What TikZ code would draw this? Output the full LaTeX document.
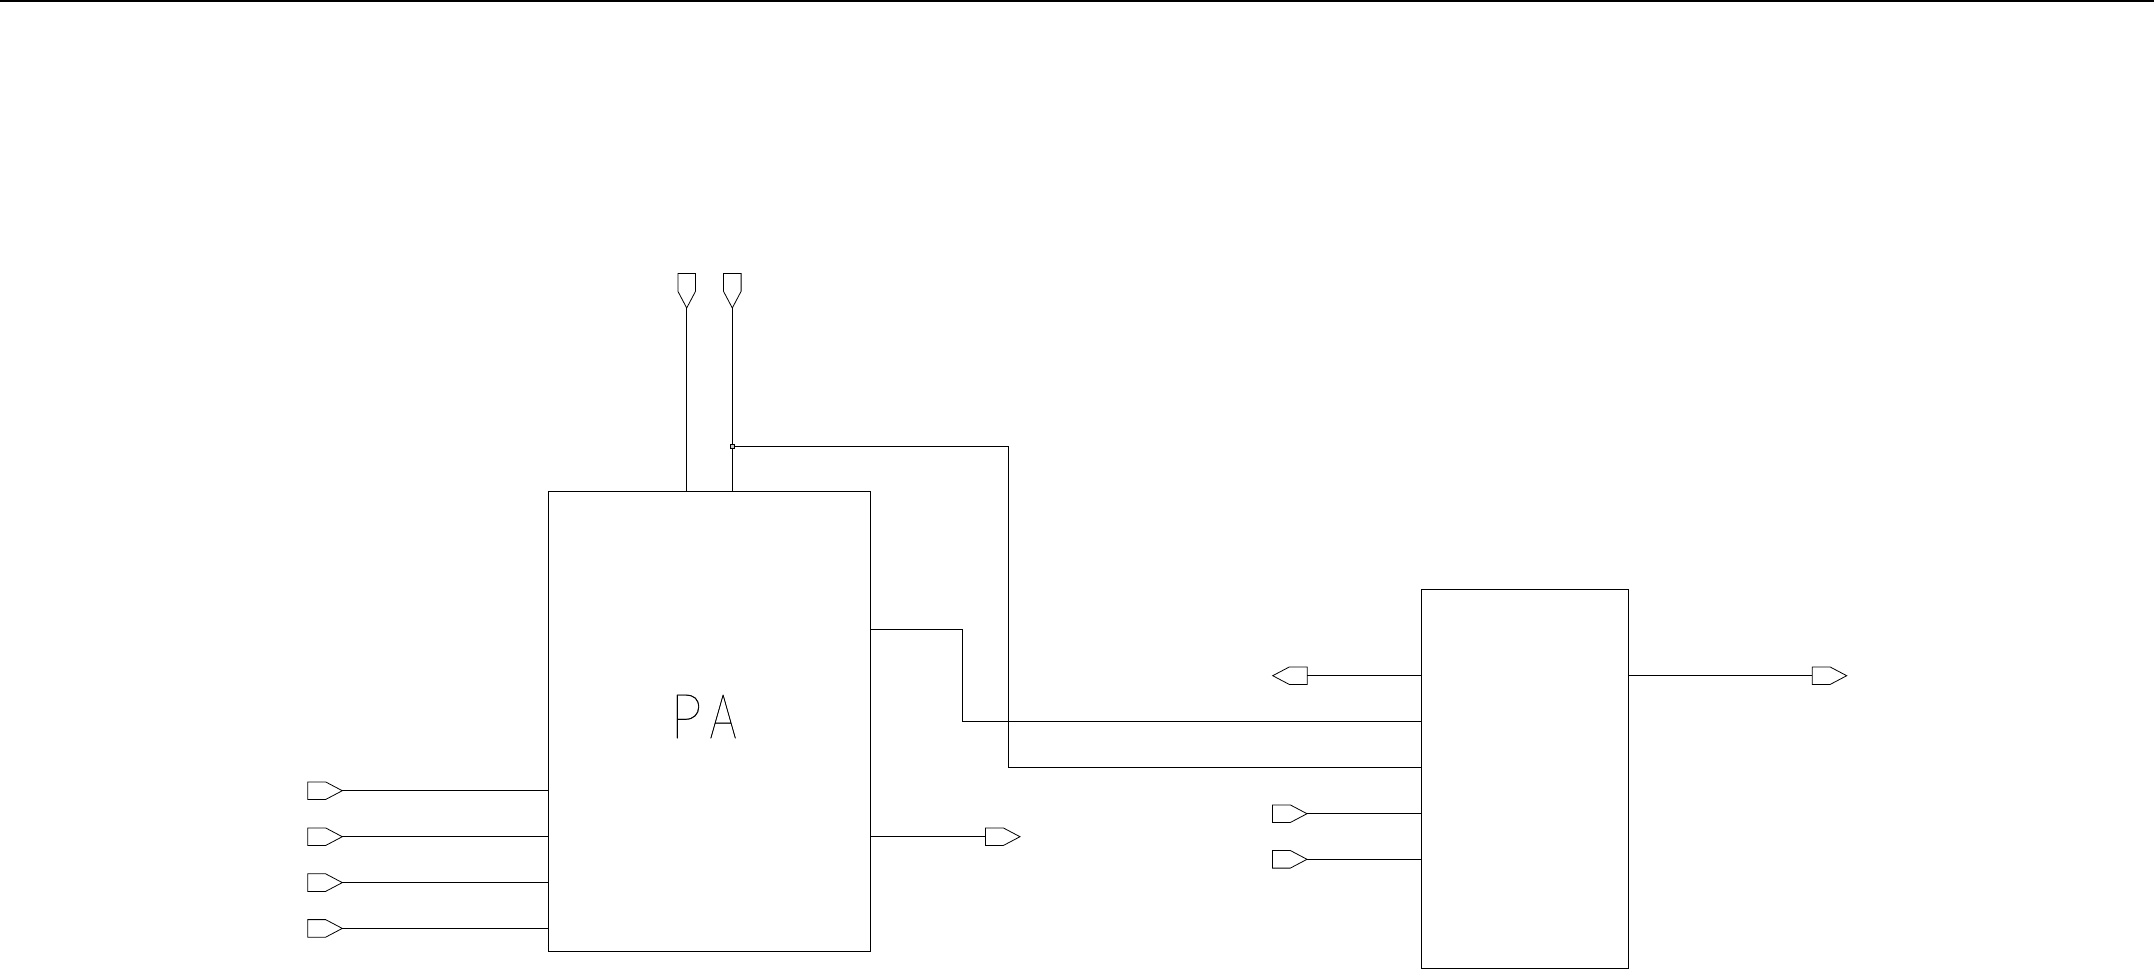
\documentclass[tikz,border=0pt]{standalone}
\usepackage{fontspec}
\newfontfamily\pafont[BoldFont={Lato Thin},BoldFeatures={FakeBold=0.5}]{Lato Thin}
\tikzset{
  wire/.style={draw=black,line width=0.8pt},
  block/.style={draw=black,line width=0.8pt,inner sep=0pt,outer sep=0pt},
  junction/.style={draw=black,line width=0.8pt,fill=gray!40,inner sep=0pt,outer sep=0pt,minimum size=3.6pt},
  pics/pinshape/.style={code={\draw[wire,line join=miter] (0,0) -- (-16.7,-8.8) -- (-34.5,-8.8) -- (-34.5,8.8) -- (-16.7,8.8) -- cycle;}}
}
\begin{document}
\begin{tikzpicture}[x=1pt,y=-1pt]
\useasboundingbox (0,0) rectangle (2154,970);
\coordinate (topL) at (0,0.8);
\coordinate (topR) at (2154,0.8);
\draw[line width=1.8pt] (topL) -- (topR);

\node[block,minimum width=321.5pt,minimum height=460pt] (pa) at (709.25,721.6) {};
\node[block,minimum width=206.5pt,minimum height=379pt] (rb) at (1524.75,779) {};
\node[inner sep=0pt,font=\pafont\bfseries\fontsize{62}{62}\selectfont] (label) at (703.5,716.5) {\scalebox{.9}[1]{P}\hspace{8pt}\scalebox{.68}[1]{A}};

% top pins
\coordinate (t1) at (686.7,308);
\coordinate (t2) at (732.3,308);
\pic[rotate=-90] at (t1) {pinshape};
\pic[rotate=-90] at (t2) {pinshape};
\draw[wire] (t1) -- (t1 |- pa.north);
\draw[wire] (t2) -- (t2 |- pa.north);

% left input pins
\foreach \n/\y in {1/790.7,2/836.7,3/882.6,4/928.4}{
  \coordinate (i\n) at (342.3,\y);
  \pic at (i\n) {pinshape};
  \draw[wire] (i\n) -- (i\n -| pa.west);
}

% PA output
\coordinate (po) at (1020,836.7);
\coordinate (pob) at (985.5,836.7);
\pic at (po) {pinshape};
\draw[wire] (pob) -- (pob -| pa.east);

% junction and wires
\node[junction] (j) at (732.3,446.3) {};
\coordinate (c1a) at (870,629.5);
\coordinate (c1b) at (962.5,629.5);
\coordinate (c1c) at (962.5,721.3);
\draw[wire] (c1a) -- (c1b) -- (c1c) -- (c1c -| rb.west);
\coordinate (c2a) at (1008.5,446.3);
\coordinate (c2b) at (1008.5,767.7);
\draw[wire] (j) -- (c2a) -- (c2b) -- (c2b -| rb.west);

% right block pins
\coordinate (o1) at (1272.7,675.7);
\coordinate (o1b) at (1307.2,675.7);
\pic[rotate=180] at (o1) {pinshape};
\draw[wire] (o1b) -- (o1b -| rb.west);
\coordinate (i5) at (1307,813.7);
\coordinate (i6) at (1307,859.3);
\pic at (i5) {pinshape};
\pic at (i6) {pinshape};
\draw[wire] (i5) -- (i5 -| rb.west);
\draw[wire] (i6) -- (i6 -| rb.west);
\coordinate (o2) at (1846.7,675.7);
\coordinate (o2b) at (1812.2,675.7);
\pic at (o2) {pinshape};
\draw[wire] (o2b) -- (o2b -| rb.east);
\end{tikzpicture}
\end{document}
